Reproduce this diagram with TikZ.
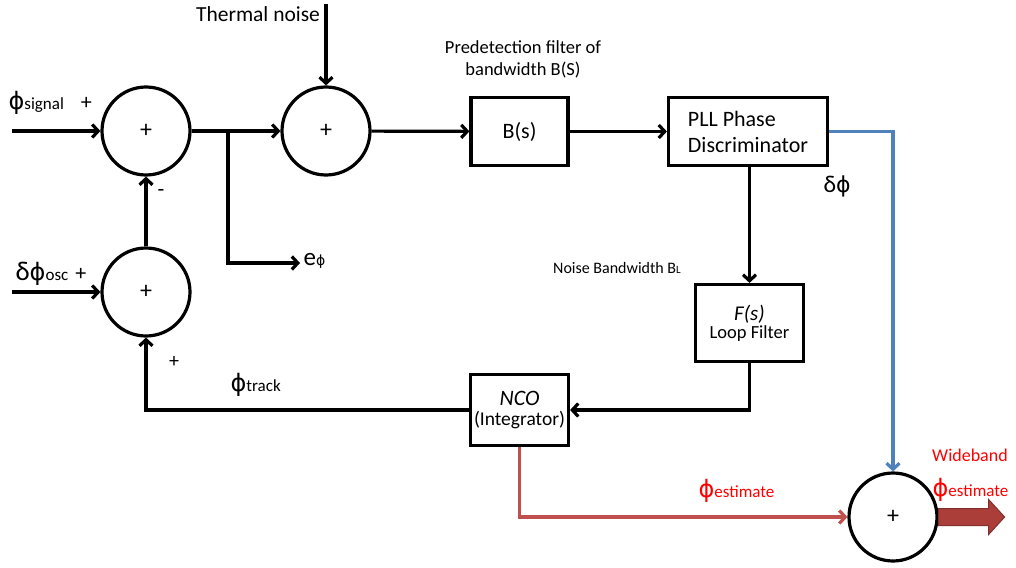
\documentclass[tikz,border=0pt]{standalone}
\usepackage{fontspec}
\setmainfont{Carlito}
\newfontfamily\greekfont{DejaVu Sans}
\usetikzlibrary{arrows.meta}

\definecolor{trackred}{RGB}{192,80,77}
\definecolor{fatred}{RGB}{172,62,58}
\definecolor{errblue}{RGB}{79,129,189}

\newcommand{\phisym}{{\greekfont ϕ}}
\newcommand{\phlabel}[1]{{\fontsize{24}{24}\selectfont\phisym}{\fontsize{17}{17}\selectfont #1}}

\begin{document}
\begin{tikzpicture}[x=1pt, y=-1pt, line width=3.2pt,
                    >={Straight Barb[length=6pt,width=13pt]},
                    sum node/.style={circle,draw,minimum size=88pt,inner sep=0pt,font=\fontsize{24}{24}\selectfont},
                    block node/.style={rectangle,draw,align=center,inner sep=0pt},
                    label text/.style={inner sep=0pt,font=\fontsize{18}{21}\selectfont}]

  \useasboundingbox (0,0) rectangle (1016,567);

  % summing junctions
  \node[sum node] (s1) at (146,131) {+};
  \node[sum node] (s2) at (146,292) {+};
  \node[sum node] (s3) at (326,131) {+};
  \node[sum node] (s4) at (893,517) {+};

  % blocks
  \node[block node,minimum width=97pt,minimum height=68pt,font=\fontsize{22}{24}\selectfont] (bs) at (519.5,131.5) {B(s)};
  \node[block node,minimum width=159pt,minimum height=68pt,font=\fontsize{22}{26}\selectfont,align=left] (pd) at (748,131.5) {PLL Phase\\Discriminator\hspace{8pt}};
  \node[block node,minimum width=108pt,minimum height=77pt] (lf) at (749.5,323) {{\fontsize{21}{22}\selectfont\itshape F(s)}\\[1pt]{\fontsize{18.5}{20}\selectfont Loop Filter}};
  \node[block node,minimum width=98pt,minimum height=71pt] (nco) at (519.5,410) {{\fontsize{22}{22}\selectfont\itshape NCO}\\[5pt]{\fontsize{19.5}{20}\selectfont (Integrator)}};

  % labels
  \node[label text,font=\fontsize{21.5}{24}\selectfont] (tn) at (258,14) {Thermal noise};
  \node[label text,font=\fontsize{18.5}{22}\selectfont,align=center] (pf) at (523,59) {Predetection filter of\\bandwidth B(S)};
  \node[label text,font=\fontsize{16}{18}\selectfont] (nb) at (617,268) {Noise Bandwidth B{\fontsize{11}{11}\selectfont L}};
  \node[label text,anchor=base west] (sig) at (7,110) {\phlabel{signal}\hspace{17pt}{\fontsize{22}{22}\selectfont +}};
  \node[label text,anchor=base west] (osc) at (14,280) {{\fontsize{27}{27}\selectfont δ}\phlabel{osc}\hspace{7pt}{\fontsize{22}{22}\selectfont +}};
  \node[label text,font=\fontsize{22}{22}\selectfont] (minus) at (161,193) {-};
  \node[label text,font=\fontsize{20}{20}\selectfont] (plus) at (174,362) {+};
  \node[label text,anchor=base west] (trk) at (229,391) {\phlabel{track}};
  \node[label text,anchor=base west] (ephi) at (302,265) {{\fontsize{25}{25}\selectfont e}{\fontsize{14}{14}\selectfont\phisym}};
  \node[label text,anchor=base west,font=\fontsize{24}{24}\selectfont] (dphi) at (822,192) {δ{\fontsize{22}{22}\selectfont\phisym}};
  \node[label text,anchor=base west,text=red] (est) at (697,497) {\phlabel{estimate}};
  \node[label text,text=red] (wb) at (970,455) {Wideband};
  \node[label text,anchor=base west,text=red] (west) at (931,496) {\phlabel{estimate}};

  % free ends
  \coordinate (in1) at (12,131);
  \coordinate (in2) at (12,292);
  \coordinate (tn in) at (326,4);
  \coordinate (br) at (228,131);
  \coordinate (e out) at (300,263);

  % connectors
  \draw[->] (in1) -- (s1);
  \draw[->] (in2) -- (s2);
  \draw[->] (s2) -- (s1);
  \draw[->] (s1) -- (s3);
  \draw[->] (br) |- (e out);
  \draw[->] (tn in) -- (s3);
  \draw[->] (s3) -- (bs);
  \draw[->] (bs) -- (pd);
  \draw[->] (pd.south -| lf.north) -- (lf.north);
  \draw[->] (lf.south) |- (nco.east);
  \draw[->] (nco.west) -| (s2.south);
  \draw[->,errblue] (pd.east) -| (s4.north);
  \draw[->,trackred] (nco.south) |- (s4.west);

  % wideband output
  \filldraw[fill=fatred,draw=fatred!75!black,line width=1pt,line join=miter]
    (s4.east) ++(0,-8.5) -- ++(50,0) -- ++(0,-9) -- ++(16,17.5)
    -- ++(-16,17.5) -- ++(0,-9) -- ++(-50,0) -- cycle;

\end{tikzpicture}
\end{document}
